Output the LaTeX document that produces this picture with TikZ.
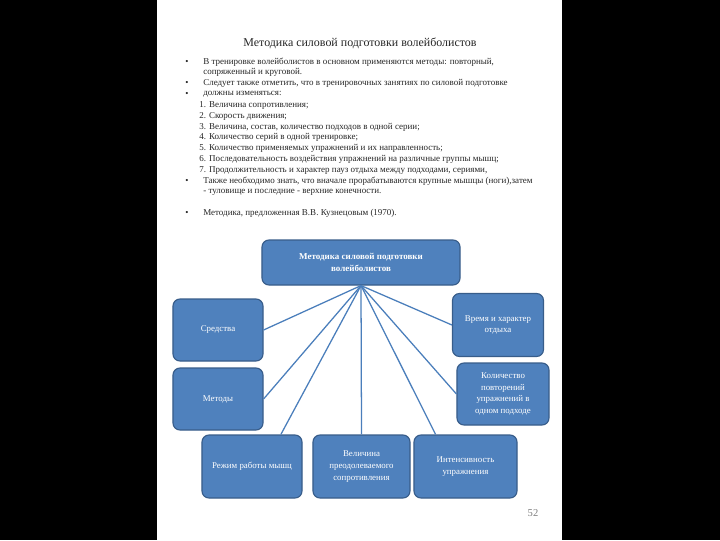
\documentclass[tikz,border=0pt]{standalone}
\usepackage{fontspec}
\setmainfont{Liberation Serif}
\usepackage{xcolor}
\usetikzlibrary{positioning}

\definecolor{boxfill}{HTML}{4F81BD}
\definecolor{boxline}{HTML}{385D8A}
\definecolor{linkblue}{HTML}{4A7EBB}
\definecolor{bodytext}{HTML}{262626}

\begin{document}
\begin{tikzpicture}[x=0.025cm,y=-0.025cm]
\tikzstyle{block} = [rectangle, rounded corners=5pt, draw=boxline, line width=0.8pt, fill=boxfill, text=white, align=center, inner sep=2pt, font=\fontsize{6.3}{8.3}\selectfont]
\tikzstyle{link} = [draw=linkblue, line width=0.9pt]
\tikzstyle{para} = [anchor=west, inner sep=0pt, text=bodytext, font=\fontsize{6.4}{8}\selectfont]

% slide frame
\fill[black] (0,0) rectangle (720,540);
\fill[white] (157,0) rectangle (562,540);

\node (title) [inner sep=0pt, text=bodytext, font=\fontsize{8.5}{11}\selectfont] at (360,43) {Методика силовой подготовки волейболистов};

% text lines
\foreach \x/\txt [count=\i] in {
  203/{В тренировке волейболистов в основном применяются методы: повторный,},
  203/{сопряженный и круговой.},
  203/{Следует также отметить, что в тренировочных занятиях по силовой подготовке},
  203/{должны изменяться:},
  199/{1. Величина сопротивления;},
  199/{2. Скорость движения;},
  199/{3. Величина, состав, количество подходов в одной серии;},
  199/{4. Количество серий в одной тренировке;},
  199/{5. Количество применяемых упражнений и их направленность;},
  199/{6. Последовательность воздействия упражнений на различные группы мышц;},
  199/{7. Продолжительность и характер пауз отдыха между подходами, сериями,},
  203/{Также необходимо знать, что вначале прорабатываются крупные мышцы (ноги),затем},
  203/{- туловище и последние - верхние конечности.}}
  \node (line\i) [para] at (\x, {62+10.83*(\i-1)}) {\txt};
\node (line14) [para] at (203,213) {Методика, предложенная В.В. Кузнецовым (1970).};

\foreach \i in {1,3,4,12}
  \node (dot\i) [para, anchor=center] at (187, {62+10.83*(\i-1)}) {\textbullet};
\node (dot14) [para, anchor=center] at (187,213) {\textbullet};

% diagram
\node (top) [block, minimum width=4.95cm, minimum height=1.125cm, font=\bfseries\fontsize{6.4}{8.3}\selectfont] at (361,262.5) {Методика силовой подготовки\\волейболистов};
\node (sredstva) [block, minimum width=2.25cm, minimum height=1.55cm] at (218,330) {Средства};
\node (metody) [block, minimum width=2.25cm, minimum height=1.55cm] at (218,399) {Методы};
\node (vremya) [block, minimum width=2.275cm, minimum height=1.575cm] at (498,325) {Время и характер\\отдыха};
\node (povtor) [block, minimum width=2.3cm, minimum height=1.55cm] at (503,394) {Количество\\повторений\\упражнений в\\одном подходе};
\node (rezhim) [block, minimum width=2.5cm, minimum height=1.575cm] at (252,466.5) {Режим работы мышц};
\node (velichina) [block, minimum width=2.425cm, minimum height=1.575cm] at (361.5,466.5) {Величина\\преодолеваемого\\сопротивления};
\node (intens) [block, minimum width=2.575cm, minimum height=1.575cm] at (465.5,466.5) {Интенсивность\\упражнения};

\coordinate (hub) at (top.south);
\draw [link] (hub) -- (sredstva.east);
\draw [link] (hub) -- (metody.east);
\draw [link] (hub) -- (rezhim.48);
\draw [link] (hub) -- (velichina.north);
\draw [link] (hub) -- (intens.133);
\draw [link] (hub) -- (povtor.west);
\draw [link] (hub) -- (vremya.west);

\node (pagenum) [inner sep=0pt, text=gray, font=\fontsize{7.5}{9}\selectfont] at (533,513) {52};
\end{tikzpicture}
\end{document}
